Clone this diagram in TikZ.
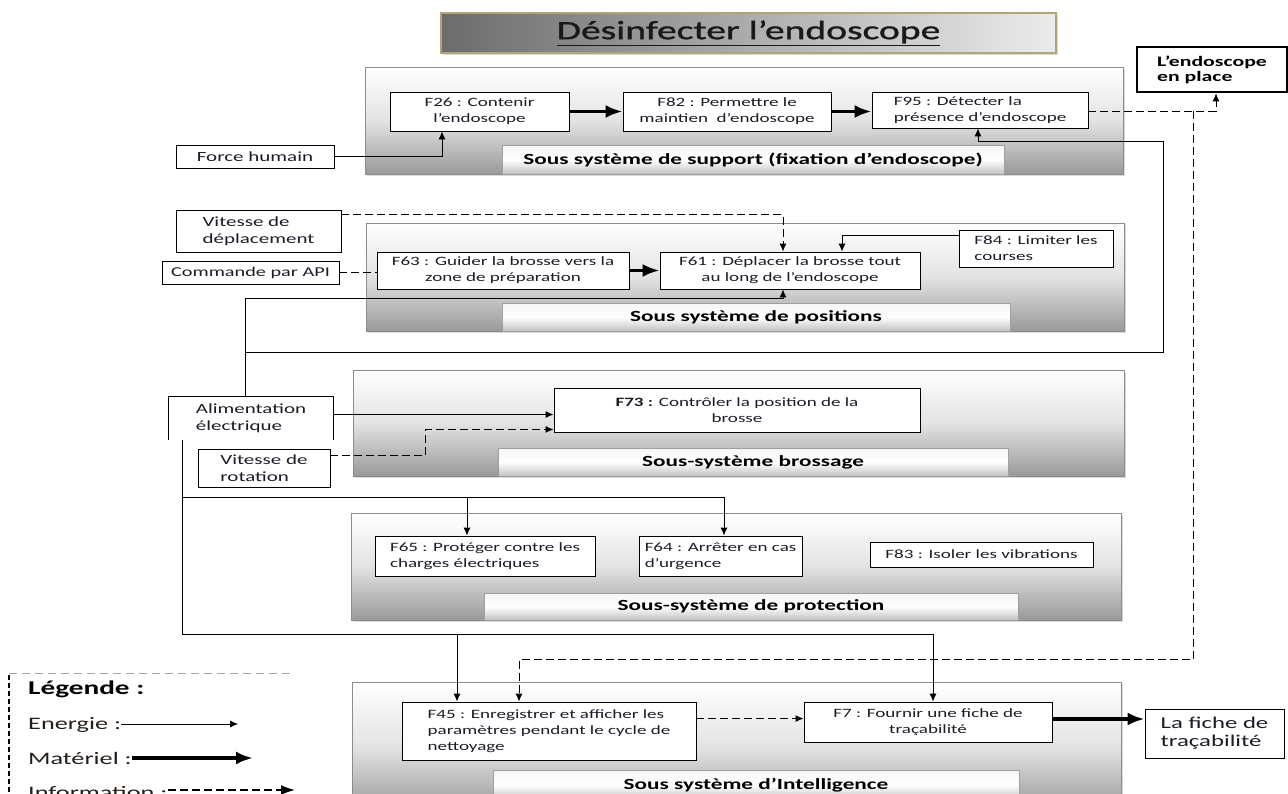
\documentclass[tikz,border=0pt]{standalone}
\usepackage{fontspec}
\setmainfont{Carlito}[FakeStretch=1.5]
\newfontfamily\headfont{Carlito}[FakeStretch=1.5, FakeBold=1.2]
\usetikzlibrary{arrows.meta,calc,shadows}

\definecolor{txtcol}{RGB}{28,28,40}
\definecolor{subedge}{RGB}{140,140,140}
\definecolor{titleedge}{RGB}{176,164,120}
\definecolor{tdark}{RGB}{108,108,108}
\definecolor{tlight}{RGB}{236,236,236}
\definecolor{legcol}{RGB}{38,30,24}

\newcommand\fnt[2]{\fontsize{#1}{#2}\selectfont}

\tikzset{
  sz/.style 2 args={minimum width=#1pt, minimum height=#2pt},
  subsys/.style={draw=subedge, line width=0.8pt, top color=white, bottom color=gray!80,
    middle color=gray!22, inner sep=0pt,
    drop shadow={shadow xshift=1.5pt, shadow yshift=-1.5pt, opacity=0.3}},
  bar/.style={draw=gray!75, line width=0.8pt, top color=gray!8, bottom color=gray!48,
    middle color=white, inner sep=0pt, font=\bfseries\fnt{15.5}{18}, text=black,
    drop shadow={shadow xshift=1pt, shadow yshift=-1pt, opacity=0.25}},
  fbox/.style={draw=black, line width=0.9pt, fill=white, inner sep=2pt,
    font=\fnt{12.7}{16}, text=txtcol},
  inbox/.style={draw=black, line width=0.9pt, fill=white, inner sep=2pt,
    font=\fnt{14}{17}, text=txtcol},
  legtext/.style={font=\fnt{17.5}{20}, text=legcol, inner sep=0pt},
  energy/.style={line width=0.9pt, -{Latex[length=8pt,width=7pt]}},
  material/.style={line width=3.6pt, -{Latex[length=17pt,width=13pt]}},
  info/.style={line width=0.9pt, dash pattern=on 8pt off 4pt, -{Latex[length=8pt,width=7pt]}},
  infoline/.style={line width=0.9pt, dash pattern=on 8pt off 4pt},
  wire/.style={line width=0.9pt},
}

\begin{document}
\begin{tikzpicture}[x=1pt,y=-1pt]
\useasboundingbox (0,0) rectangle (1288,793);
\clip (0,0) rectangle (1288,793);

% title
\node[draw=titleedge, line width=1.3pt, left color=tdark, right color=tlight, sz={615}{40},
  drop shadow={shadow xshift=1.5pt, shadow yshift=-1.5pt, opacity=0.3},
  font=\headfont\fnt{26.4}{30}, text={rgb,255:red,25;green,25;blue,25}]
  (title) at (748.5,33) {\underline{Désinfecter l’endoscope}};

% sub-systems
\node[subsys, sz={758}{107}] (sub1) at (744,120.5) {};
\node[bar, sz={502}{29}] (bar1) at (753,159.5) {Sous système de support (fixation d’endoscope)};
\node[subsys, sz={758}{108}] (sub2) at (745,277) {};
\node[bar, sz={508}{28}] (bar2) at (756,317) {Sous système de positions};
\node[subsys, sz={771}{106}] (sub3) at (738.5,423) {};
\node[bar, sz={510}{28}] (bar3) at (753,462) {Sous-système brossage};
\node[subsys, sz={770}{107}] (sub4) at (736,566.5) {};
\node[bar, sz={534}{27}] (bar4) at (751,606.5) {Sous-système de protection};
\node[subsys, sz={769}{130}] (sub5) at (736.5,747) {};
\node[bar, sz={526}{30}] (bar5) at (756,785) {Sous système d’Intelligence};

% functions: support
\node[fbox, sz={179}{39}, align=center] (f26) at (479.5,111.5) {F26 : Contenir\\l’endoscope};
\node[fbox, sz={208}{39}, align=center] (f82) at (727,111.5) {F82 : Permettre le\\maintien~ d’endoscope};
\node[fbox, sz={216}{36}, align=left] (f95) at (980,110) {F95 : Détecter la\\présence d’endoscope};

% functions: positions
\node[fbox, sz={252}{37}, align=center] (f63) at (503,270.5) {F63 : Guider la brosse vers la\\zone de préparation};
\node[fbox, sz={260}{37}, align=center] (f61) at (790,270.5) {F61 : Déplacer la brosse tout\\au long de l’endoscope};
\node[fbox, sz={154}{37}, align=left] (f84) at (1036,248.5) {F84 : Limiter les\\courses};

% functions: brushing
\node[fbox, sz={366}{44}, align=center] (f73) at (737,410) {\textbf{F73 :} Contrôler la position de la\\brosse};

% functions: protection
\node[fbox, sz={220}{40}, align=left] (f65) at (485,556) {F65 : Protéger contre les\\charges électriques};
\node[fbox, sz={163}{40}, align=left] (f64) at (720.5,556) {F64 : Arrêter en cas\\d’urgence};
\node[fbox, sz={223}{25}, align=left] (f83) at (981.5,554.5) {F83 : Isoler les vibrations};

% functions: intelligence
\node[fbox, sz={294}{58}, align=left] (f45) at (549,731) {F45 : Enregistrer et afficher les\\paramètres pendant le cycle de\\nettoyage};
\node[fbox, sz={248}{40}, align=center] (f7) at (928,722) {F7 : Fournir une fiche de\\traçabilité};

% external inputs and outputs
\node[inbox, sz={158}{23}, align=left] (force) at (255,156.5) {Force humain};
\node[inbox, sz={150}{45}, align=left, line width=2.6pt, font=\bfseries\fnt{14.5}{15}, text=black]
  (endo) at (1212,69.5) {L’endoscope\\en place};
\node[inbox, sz={165}{42}, align=left] (vdep) at (258.5,231) {Vitesse de\\déplacement};
\node[inbox, sz={177}{23}, align=center, font=\fnt{13.5}{16}] (api) at (250.5,272.5) {Commande par API};
\node[inbox, draw=none, sz={164}{43}, align=left] (alim) at (251,418.5) {Alimentation\\électrique};
\draw[wire] (alim.south west) -- (alim.north west) -- (alim.north east) -- (alim.south east);
\node[inbox, sz={132}{38}, align=left] (vrot) at (264,468) {Vitesse de\\rotation};
\node[inbox, sz={139}{49}, align=left, font=\fnt{16.5}{18}] (fiche) at (1214.5,733.5) {La fiche de\\traçabilité};

% attachment points on the boxes
\coordinate (alimE) at ($(alim.north east)+(0,18)$);
\coordinate (f7E) at ($(f7.east)+(0,-3)$);
\coordinate (f45E) at ($(f45.north east)+(0,17)$);
\coordinate (alimtop) at ($(alim.north)+(-6,0)$);
\coordinate (pwr) at ($(alim.south west)+(14,0)$);
\coordinate (tap) at ($(f95.east)+(105,1)$);

% material flows
\draw[material] (f26.east) -- (f82.west);
\draw[material] (f82.east) -- (f82.east -| f95.west);
\draw[material] (f63.east) -- (f61.west);
\draw[material] (f7E) -- (f7E -| fiche.west);

% energy flows
\draw[energy] (force.east) -| ($(f26.south)+(-37.5,0)$);
\draw[energy] (alimtop) |- ($(f61.south)+(-7,9)$) -- ($(f61.south)+(-7,0)$);
\draw[energy] ($(alimtop)+(0,-44)$) -| ($(f95.south east)+(75,13)$) -| ($(f95.south)+(-2,0)$);
\draw[energy] ($(f84.north west)+(0,6)$) -| ($(f61.north)+(52,0)$);
\draw[energy] (alimE) -- (alimE -| f73.west);
\draw[energy] (pwr) |- ($(f64.north)+(3.5,-38)$) -- ($(f64.north)+(3.5,0)$);
\draw[energy] ($(f65.north)+(-18,-38)$) -- ($(f65.north)+(-18,0)$);
\draw[energy] (pwr) |- ($(f7.north)+(5,-67)$) -- ($(f7.north)+(5,0)$);
\draw[energy] ($(f45.north)+(-92,-67)$) -- ($(f45.north)+(-92,0)$);

% information flows
\draw[info] ($(f95.east)+(0,1)$) -| ($(endo.south)+(4,0)$);
\draw[info] (tap) |- ($(f45.north)+(-30,-42)$) -- ($(f45.north)+(-30,0)$);
\draw[info] ($(vdep.north east)+(0,5)$) -| ($(f61.north)+(-7,0)$);
\draw[infoline] (api.east) -- (api.east -| f63.west);
\draw[info] ($(vrot.north east)+(0,7)$) -| ($(f73.south west)+(-128,-3)$) -- ($(f73.south west)+(0,-3)$);
\draw[info] (f45E) -- (f45E -| f7.west);

% legend
\coordinate (lgcorner) at (9,673);
\draw[gray!70, line width=0.9pt, dash pattern=on 8pt off 5pt] (lgcorner) -- (294,673);
\draw[black, line width=1.8pt, dash pattern=on 5pt off 3pt] (9,800) -- (lgcorner);
\node[legtext, anchor=base west, font=\bfseries\fnt{19.5}{22}, text=black] (lgtitle) at (28,694) {Légende :};
\node[legtext, anchor=base west] (lgE) at (28,729) {Energie :};
\coordinate (lgEend) at (238,724);
\draw[energy, line width=0.7pt] (lgE.base east |- lgEend) -- (lgEend);
\node[legtext, anchor=base west] (lgM) at (28,764) {Matériel :};
\coordinate (lgMend) at (253,758);
\draw[material] (lgM.base east |- lgMend) -- (lgMend);
\node[legtext, anchor=base west] (lgI) at (28,798) {Information :};
\coordinate (lgIend) at (295,790);
\draw[info, line width=1.6pt, -{Latex[length=14pt,width=10pt]}] (lgI.base east |- lgIend) -- (lgIend);
\end{tikzpicture}
\end{document}
